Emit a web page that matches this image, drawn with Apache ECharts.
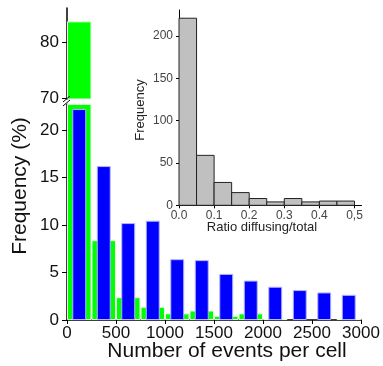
<!DOCTYPE html>
<html><head><meta charset="utf-8">
<script src="https://cdn.jsdelivr.net/npm/echarts@6/dist/echarts.min.js"></script>
<style>html,body{margin:0;padding:0;background:#fff}#c{width:383px;height:366px}</style>
</head><body><div id="c"></div>
<script>
// Main histogram: bins of 250 events per cell
const binStarts = [0, 250, 500, 750, 1000, 1250, 1500, 1750, 2000, 2250, 2500, 2750];
const greenValues = [83.8, 8.4, 2.4, 1.4, 0.7, 1.0, 0.45, 0.7, 0.15, 0, 0, 0.15];
const blueValues = [22.2, 16.2, 10.2, 10.45, 6.4, 6.3, 4.85, 4.15, 3.5, 3.15, 2.9, 2.65];
const lowerYTicks = [0, 5, 10, 15, 20];
const upperYTicks = [70, 80];
// Inset histogram
const ratioBinStarts = [0, 0.05, 0.1, 0.15, 0.2, 0.25, 0.3, 0.35, 0.4, 0.45];
const ratioBinWidth = 0.05;
const ratioCounts = [221, 59, 27, 15, 8, 4, 8, 4, 5, 5];
const ratioTicks = [0, 0.1, 0.2, 0.3, 0.4, 0.5];
const ratioTickLabels = ['0.0', '0.1', '0.2', '0.3', '0.4', '0,5'];
const insetYTicks = [0, 50, 100, 150, 200];

const FONT = 'Liberation Sans, Arial, sans-serif';
const binLabels = binStarts.map(String);
const GREEN = '#00ff00', BLUE = '#0000ff';

const chart = echarts.init(document.getElementById('c'), null, {renderer: 'canvas'});
const axisLineBlack = {show: true, lineStyle: {color: '#000', width: 1.5}};

const option = {
  animation: false,
  backgroundColor: '#fff',
  grid: [
    {left: 67, right: 22, top: 104.3, bottom: 46},   // lower main
    {left: 67, right: 22, top: 8, height: 91},        // upper main (broken part)
    {left: 179, width: 182.5, top: 10, height: 195.3} // inset
  ],
  xAxis: [
    {type: 'value', gridIndex: 0, min: 0, max: 3000, interval: 500,
     axisLine: axisLineBlack, axisTick: {show: true, length: 4, lineStyle: {color: '#000'}},
     splitLine: {show: false},
     axisLabel: {fontSize: 17, color: '#111', fontFamily: FONT, margin: 5, formatter: v => String(v)}},
    {type: 'category', gridIndex: 0, data: binLabels, show: false},
    {type: 'category', gridIndex: 0, data: binLabels, show: false},
    {type: 'category', gridIndex: 1, data: binLabels, show: false},
    {type: 'value', gridIndex: 2, min: 0, max: 0.52,
     axisLine: {show: true, lineStyle: {color: '#000', width: 1}},
     axisTick: {show: true, length: 3, customValues: ratioTicks, lineStyle: {color: '#000'}},
     splitLine: {show: false},
     axisLabel: {fontSize: 12, color: '#444', fontFamily: FONT, margin: 4, customValues: ratioTicks,
       formatter: v => ratioTickLabels[Math.round(v * 10)]}}
  ],
  yAxis: [
    {type: 'value', gridIndex: 0, min: 0, max: 22.7,
     axisLine: axisLineBlack,
     axisTick: {show: true, length: 5, customValues: lowerYTicks, lineStyle: {color: '#000'}},
     splitLine: {show: false},
     axisLabel: {fontSize: 17, color: '#111', fontFamily: FONT, margin: 8, customValues: lowerYTicks}},
    {type: 'value', gridIndex: 1, min: 69.8, max: 86.2,
     axisLine: axisLineBlack,
     axisTick: {show: true, length: 5, customValues: upperYTicks, lineStyle: {color: '#000'}},
     splitLine: {show: false},
     axisLabel: {fontSize: 17, color: '#111', fontFamily: FONT, margin: 8, customValues: upperYTicks}},
    {type: 'value', gridIndex: 2, min: 0, max: 230.7, offset: 2,
     axisLine: {show: true, lineStyle: {color: '#000', width: 1}},
     axisTick: {show: true, length: 3, customValues: insetYTicks, lineStyle: {color: '#000'}},
     splitLine: {show: false},
     axisLabel: {fontSize: 12, color: '#444', fontFamily: FONT, margin: 4, customValues: insetYTicks}}
  ],
  series: [
    {type: 'bar', xAxisIndex: 1, yAxisIndex: 0, barWidth: '100%',
     data: greenValues.map(v => v === 0 ? null : v),
     itemStyle: {color: GREEN, borderColor: '#e6ffe6', borderWidth: 1}},
    {type: 'bar', xAxisIndex: 2, yAxisIndex: 0, barWidth: '57%',
     data: blueValues,
     itemStyle: {color: BLUE, borderColor: '#b4b4ff', borderWidth: 1}},
    {type: 'bar', xAxisIndex: 3, yAxisIndex: 1, barWidth: '100%',
     data: greenValues.map(v => v > 69.8 ? v : null),
     itemStyle: {color: GREEN, borderColor: '#e6ffe6', borderWidth: 1}},
    {type: 'custom', xAxisIndex: 4, yAxisIndex: 2,
     data: ratioBinStarts.map((s, i) => [s, s + ratioBinWidth, ratioCounts[i]]),
     encode: {x: [0, 1], y: 2},
     renderItem: (params, api) => {
       const p0 = api.coord([api.value(0), 0]);
       const p1 = api.coord([api.value(1), api.value(2)]);
       return {type: 'rect',
         shape: {x: p0[0], y: p1[1], width: p1[0] - p0[0], height: p0[1] - p1[1]},
         style: {fill: '#c0c0c0', stroke: '#222', lineWidth: 1}};
     }}
  ],
  graphic: [
    {type: 'text', x: 20, y: 186, rotation: Math.PI / 2, z: 10,
     style: {text: 'Frequency (%)', fontSize: 21, fontFamily: FONT, fill: '#111', align: 'center', verticalAlign: 'middle'}},
    {type: 'text', x: 227, y: 351, z: 10,
     style: {text: 'Number of events per cell', fontSize: 21, fontFamily: FONT, fill: '#111', align: 'center', verticalAlign: 'middle'}},
    {type: 'text', x: 140, y: 110, rotation: Math.PI / 2, z: 10,
     style: {text: 'Frequency', fontSize: 13, fontFamily: FONT, fill: '#222', align: 'center', verticalAlign: 'middle'}},
    {type: 'text', x: 262, y: 227, z: 10,
     style: {text: 'Ratio diffusing/total', fontSize: 13, fontFamily: FONT, fill: '#222', align: 'center', verticalAlign: 'middle'}},
    {type: 'line', z: 10, shape: {x1: 63, y1: 102, x2: 70, y2: 96}, style: {stroke: '#000', lineWidth: 1}},
    {type: 'line', z: 10, shape: {x1: 63, y1: 106, x2: 70, y2: 100}, style: {stroke: '#000', lineWidth: 1}}
  ]
};
chart.setOption(option);
</script></body></html>
